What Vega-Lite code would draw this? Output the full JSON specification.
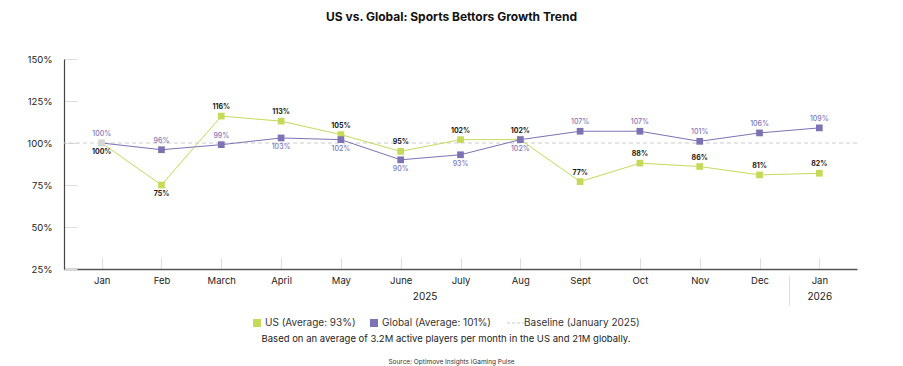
{
  "$schema": "https://vega.github.io/schema/vega-lite/v6.json",
  "width": 793,
  "height": 210,
  "autosize": {"type": "none"},
  "padding": {"left": 64, "top": 59, "right": 46, "bottom": 97},
  "background": "white",
  "title": {"text": "US vs. Global: Sports Bettors Growth Trend", "anchor": "middle", "fontSize": 12, "fontWeight": "bold", "color": "#111111", "offset": 30, "dx": -9, "font": "Inter"},
  "config": {"font": "Inter", "view": {"stroke": null}},
  "data": {"values": [
    {"month": "Jan 2025", "series": "US", "value": 100},
    {"month": "Feb 2025", "series": "US", "value": 75},
    {"month": "March 2025", "series": "US", "value": 116},
    {"month": "April 2025", "series": "US", "value": 113},
    {"month": "May 2025", "series": "US", "value": 105},
    {"month": "June 2025", "series": "US", "value": 95},
    {"month": "July 2025", "series": "US", "value": 102},
    {"month": "Aug 2025", "series": "US", "value": 102},
    {"month": "Sept 2025", "series": "US", "value": 77},
    {"month": "Oct 2025", "series": "US", "value": 88},
    {"month": "Nov 2025", "series": "US", "value": 86},
    {"month": "Dec 2025", "series": "US", "value": 81},
    {"month": "Jan 2026", "series": "US", "value": 82},
    {"month": "Jan 2025", "series": "Global", "value": 100},
    {"month": "Feb 2025", "series": "Global", "value": 96},
    {"month": "March 2025", "series": "Global", "value": 99},
    {"month": "April 2025", "series": "Global", "value": 103},
    {"month": "May 2025", "series": "Global", "value": 102},
    {"month": "June 2025", "series": "Global", "value": 90},
    {"month": "July 2025", "series": "Global", "value": 93},
    {"month": "Aug 2025", "series": "Global", "value": 102},
    {"month": "Sept 2025", "series": "Global", "value": 107},
    {"month": "Oct 2025", "series": "Global", "value": 107},
    {"month": "Nov 2025", "series": "Global", "value": 101},
    {"month": "Dec 2025", "series": "Global", "value": 106},
    {"month": "Jan 2026", "series": "Global", "value": 109}
  ]},
  "layer": [
    {
      "data": {"values": [{}]},
      "mark": {"type": "rule", "strokeDash": [4, 3], "strokeWidth": 1},
      "encoding": {"y": {"datum": 100, "type": "quantitative"}, "color": {"datum": "Baseline"}}
    },
    {
      "encoding": {
        "x": {"field": "month", "type": "nominal", "sort": null,
          "scale": {"type": "point", "padding": 0.63},
          "axis": {"labelExpr": "split(datum.label, ' ')[0]", "labelAngle": 0, "tickSize": -11, "labelPadding": 17, "tickColor": "#dddddd", "domainColor": "#555555", "domainWidth": 1.5, "title": null, "labelFontSize": 9.5, "labelColor": "#222222", "grid": false}},
        "y": {"field": "value", "type": "quantitative",
          "scale": {"domain": [25, 150], "nice": false, "zero": false},
          "axis": {"values": [25, 50, 75, 100, 125, 150], "labelExpr": "datum.value + '%'", "tickSize": -13, "labelPadding": 25, "tickColor": "#dddddd", "domainColor": "#444444", "domainWidth": 1.2, "grid": false, "title": null, "labelFontSize": 9.5, "labelColor": "#222222"}}
      },
      "layer": [
        {
          "mark": {"type": "line", "strokeWidth": 1},
          "encoding": {
            "color": {"field": "series", "type": "nominal",
              "scale": {"domain": ["US", "Global", "Baseline"], "range": ["#c6d95a", "#7c72b4", "#cccccc"]},
              "legend": {"orient": "none", "legendX": 188, "legendY": 259, "direction": "horizontal",
                "title": "Based on an average of 3.2M active players per month in the US and 21M globally.",
                "titleOrient": "bottom", "titleAnchor": "middle", "titleFontSize": 9.5, "titleFontWeight": "normal", "titleColor": "#222222", "titleLimit": 1000, "titlePadding": 6,
                "labelExpr": "datum.label == 'US' ? 'US (Average: 93%)' : datum.label == 'Global' ? 'Global (Average: 101%)' : 'Baseline (January 2025)'",
                "labelFontSize": 10, "labelColor": "#333333", "labelLimit": 300, "labelOffset": 3,
                "symbolSize": 324, "symbolType": "square", "columnPadding": 13,
                "encode": {"symbols": {"update": {
                  "shape": {"signal": "datum.value === 'Baseline' ? 'stroke' : 'square'"},
                  "size": {"signal": "datum.value === 'Baseline' ? 324 : 64"},
                  "strokeDash": {"signal": "datum.value === 'Baseline' ? [3, 2] : []"},
                  "strokeWidth": {"signal": "datum.value === 'Baseline' ? 1 : 0"},
                  "stroke": {"value": "#cccccc"},
                  "opacity": {"value": 1}
                }}}}
            }
          }
        },
        {
          "mark": {"type": "point", "shape": "square", "filled": true, "size": 45, "opacity": 1},
          "encoding": {
            "color": {"condition": {"test": "datum.month === 'Jan 2025'", "value": "#d6d6d6"}, "field": "series", "type": "nominal"}
          }
        },
        {
          "transform": [{"filter": "datum.series === 'US' && indexof(['Jan 2025', 'Feb 2025'], datum.month) < 0"}, {"calculate": "datum.value + '%'", "as": "lbl"}],
          "mark": {"type": "text", "dy": -9, "fontSize": 7, "fontWeight": "bold", "color": "#1a1a1a", "baseline": "middle"},
          "encoding": {"text": {"field": "lbl"}}
        },
        {
          "transform": [{"filter": "datum.series === 'US' && indexof(['Jan 2025', 'Feb 2025'], datum.month) >= 0"}, {"calculate": "datum.value + '%'", "as": "lbl"}],
          "mark": {"type": "text", "dy": 9, "fontSize": 7, "fontWeight": "bold", "color": "#1a1a1a", "baseline": "middle"},
          "encoding": {"text": {"field": "lbl"}}
        },
        {
          "transform": [{"filter": "datum.series === 'Global' && indexof(['April 2025', 'May 2025', 'June 2025', 'July 2025', 'Aug 2025'], datum.month) < 0"}, {"calculate": "datum.value + '%'", "as": "lbl"}],
          "mark": {"type": "text", "dy": -9, "fontSize": 7, "fontWeight": 500, "color": "#8077b8", "baseline": "middle"},
          "encoding": {"text": {"field": "lbl"}}
        },
        {
          "transform": [{"filter": "datum.series === 'Global' && indexof(['April 2025', 'May 2025', 'June 2025', 'July 2025', 'Aug 2025'], datum.month) >= 0"}, {"calculate": "datum.value + '%'", "as": "lbl"}],
          "mark": {"type": "text", "dy": 9, "fontSize": 7, "fontWeight": 500, "color": "#8077b8", "baseline": "middle"},
          "encoding": {"text": {"field": "lbl"}}
        }
      ]
    },
    {
      "data": {"values": [{}]},
      "mark": {"type": "point", "opacity": 0},
      "encoding": {
        "x": {"datum": 0, "type": "quantitative",
          "scale": {"domain": [-0.63, 12.63], "nice": false, "zero": false},
          "axis": {"orient": "bottom", "offset": 7, "values": [5.4, 11.5, 12],
            "labelExpr": "datum.value == 12 ? '2026' : datum.value < 6 ? '2025' : ''",
            "labelOverlap": false, "labelFlush": false, "grid": false,
            "tickSize": 29, "tickColor": "#dddddd",
            "tickOpacity": {"condition": {"test": "datum.value == 11.5", "value": 1}, "value": 0},
            "domain": false, "labelPadding": -14, "labelFontSize": 10, "labelColor": "#222222",
            "title": "Source: Optimove Insights iGaming Pulse", "titleFontSize": 6.5, "titleFontWeight": "normal", "titleColor": "#333333",
            "titleX": 387, "titleY": 85, "titleAlign": "center", "titleBaseline": "middle"}},
        "y": {"datum": 100, "type": "quantitative"}
      }
    }
  ],
  "resolve": {"scale": {"x": "independent"}}
}
